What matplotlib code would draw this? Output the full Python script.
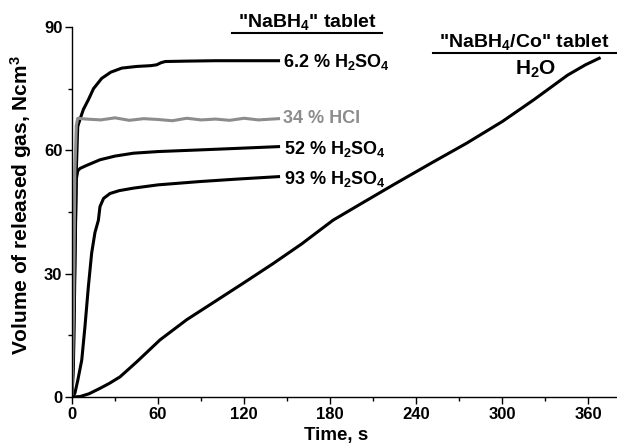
import matplotlib
matplotlib.use("Agg")
import matplotlib.pyplot as plt
from matplotlib.ticker import MultipleLocator

plt.rcParams['font.family'] = ['Liberation Sans', 'DejaVu Sans']
plt.rcParams['font.weight'] = 'bold'
plt.rcParams['mathtext.fontset'] = 'custom'
plt.rcParams['mathtext.rm'] = 'Liberation Sans:bold'
plt.rcParams['mathtext.it'] = 'Liberation Sans:bold'
plt.rcParams['mathtext.bf'] = 'Liberation Sans:bold'
plt.rcParams['mathtext.default'] = 'rm'

# Data
t_62 = [0, 1, 2, 3, 4, 6, 8, 11.4, 15, 20.7, 27, 34.7, 45, 55, 59, 62, 65, 80, 100, 120, 144]
v_62 = [0, 8, 30, 55, 65.8, 68, 70, 72.3, 75, 77.5, 79, 80, 80.4, 80.6, 80.8, 81.3, 81.6, 81.7, 81.8, 81.8, 81.8]

t_hcl = [0, 1, 2, 3, 4, 10, 20, 30, 40, 50, 60, 70, 80, 90, 100, 110, 120, 130, 144]
v_hcl = [0, 20, 55, 66, 67.8, 67.6, 67.4, 67.9, 67.3, 67.7, 67.5, 67.2, 67.8, 67.4, 67.6, 67.3, 67.8, 67.4, 67.7]

t_52 = [0, 1, 2, 3, 4, 5.6, 10, 19.5, 30, 42.8, 60, 89, 110, 144]
v_52 = [0, 10, 35, 53, 55, 55.6, 56.3, 57.7, 58.6, 59.3, 59.7, 60.1, 60.4, 60.9]

t_93 = [0, 2, 4, 6.8, 9, 11.4, 13.7, 16, 18.4, 19.5, 22, 26.5, 33, 42.8, 60, 89, 115, 144]
v_93 = [0, 0.9, 4, 9, 17, 26.8, 35, 40, 43, 46.3, 48.3, 49.5, 50.2, 50.8, 51.6, 52.4, 53.0, 53.6]

t_h2o = [0, 5.6, 12, 19.5, 26, 33.5, 45, 61.4, 80, 100, 119.5, 140, 160, 182, 200, 224, 250, 275, 300, 322, 345.6, 358, 367.6]
v_h2o = [0, 0.1, 0.8, 2.1, 3.3, 4.9, 8.5, 13.9, 18.8, 23.3, 27.7, 32.4, 37.2, 43, 46.7, 51.6, 56.8, 61.7, 67.0, 72.3, 78.3, 80.8, 82.4]

fig = plt.figure(figsize=(6.17, 4.44), dpi=100)
ax = fig.add_axes([0.1167, 0.1059, 0.8833, 0.8333])

lw = 2.2
ax.plot(t_62, v_62, color='black', lw=lw)
ax.plot(t_52, v_52, color='black', lw=lw)
ax.plot(t_93, v_93, color='black', lw=lw)
ax.plot(t_hcl, v_hcl, color='#8c8c8c', lw=lw)
ax.plot(t_h2o, v_h2o, color='black', lw=lw)

ax.set_xlim(0, 380)
ax.set_ylim(0, 90)
ax.xaxis.set_major_locator(MultipleLocator(60))
ax.xaxis.set_minor_locator(MultipleLocator(30))
ax.yaxis.set_major_locator(MultipleLocator(30))
ax.yaxis.set_minor_locator(MultipleLocator(15))
ax.spines['top'].set_visible(False)
ax.spines['right'].set_visible(False)
for s in ('left', 'bottom'):
    ax.spines[s].set_linewidth(1.0)
ax.tick_params(which='major', direction='out', length=5, width=1, labelsize=12, pad=2)
ax.tick_params(which='minor', direction='out', length=3, width=1)
for lab in ax.get_xticklabels() + ax.get_yticklabels():
    lab.set_fontweight('bold')

ax.set_xlabel('Time, s', fontsize=13.5, fontweight='bold')
ax.xaxis.label.set(va='center', ha='center')
ax.xaxis.set_label_coords(0.484, -0.105)
ax.set_ylabel('Volume of released gas, Ncm$^3$', fontsize=15, fontweight='bold')
ax.yaxis.label.set(va='center', ha='center', rotation_mode='anchor')
ax.yaxis.set_label_coords(-0.094, 0.52)

fs = 13
ax.text(147, 81.6, '6.2 % H$_2$SO$_4$', fontsize=fs, va='center', ha='left')
ax.text(147, 67.8, '34 % HCl', fontsize=fs, va='center', ha='left', color='#8c8c8c')
ax.text(148, 60.3, '52 % H$_2$SO$_4$', fontsize=fs, va='center', ha='left')
ax.text(148, 53.0, '93 % H$_2$SO$_4$', fontsize=fs, va='center', ha='left')

ax.text(164, 91.2, '"NaBH$_4$" tablet', fontsize=14, va='center', ha='center', clip_on=False)
ax.plot([111.6, 216], [88.6, 88.6], color='black', lw=1.5, clip_on=False)
ax.text(315, 86.3, '"NaBH$_4$/Co" tablet', fontsize=14, va='center', ha='center', clip_on=False)
ax.plot([252, 379], [83.7, 83.7], color='black', lw=1.5, clip_on=False)
ax.text(323, 79.6, 'H$_2$O', fontsize=15, va='center', ha='center')

fig.savefig('out.png', dpi=100)
